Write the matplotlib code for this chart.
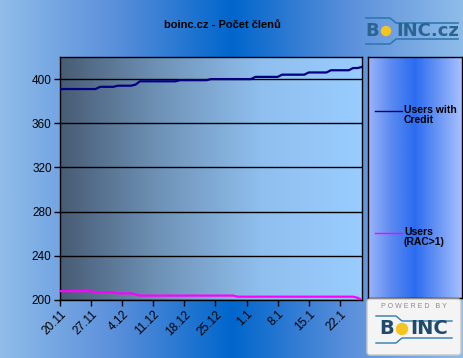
"""boinc.cz - member count chart (Excel-style)."""
import matplotlib
matplotlib.use("Agg")
import matplotlib.pyplot as plt
import numpy as np
from matplotlib.colors import LinearSegmentedColormap
from matplotlib.patches import FancyBboxPatch, Circle

plt.rcParams["font.family"] = ["Liberation Sans", "DejaVu Sans"]

# day index since 20.11, one value per day
days = list(range(69))
users_credit = ([391] * 9 + [393] * 4 + [394] * 4 + [395] + [398] * 9 + [399] * 7
                + [400] * 10 + [402] * 6 + [404] * 6 + [406] * 5 + [408] * 5
                + [410] * 2 + [411])
users_rac = ([208] * 8 + [207] * 5 + [206] * 4 + [205] + [204] * 22 + [203] * 27
             + [202] + [200])
tick_days = [0, 7, 14, 21, 28, 35, 42, 49, 56, 63]
tick_labels = ["20.11", "27.11", "4.12", "11.12", "18.12", "25.12", "1.1", "8.1", "15.1", "22.1"]
y_ticks = [200, 240, 280, 320, 360, 400]
series_names = ["Users with\nCredit", "Users\n(RAC>1)"]
series_colors = ["#000080", "#ff00ff"]

W, H = 464, 358
fig = plt.figure(figsize=(W / 100, H / 100), dpi=100)


def px_axes(x0, y0, x1, y1, **kw):
    return fig.add_axes([x0 / W, 1 - y1 / H, (x1 - x0) / W, (y1 - y0) / H], **kw)


def hgrad(ax, colors, zorder=0):
    cmap = LinearSegmentedColormap.from_list("g", colors)
    ax.imshow(np.linspace(0, 1, 256)[None, :], aspect="auto", cmap=cmap,
              extent=[0, 1, 0, 1], transform=ax.transAxes, zorder=zorder)


# figure background
bg = px_axes(0, 0, W, H)
hgrad(bg, ["#8fbce9", "#5a8fdb", "#0066cc", "#5a8fdb", "#8fbce9"])
bg.set_axis_off()

# plot area
ax = px_axes(60, 57, 362, 300)
hgrad(ax, ["#485c74", "#6f93b8", "#8fbfee", "#99ccff"], zorder=-5)
for y in y_ticks:
    ax.axhline(y, color="black", lw=1, zorder=1)
ax.plot(days, users_credit, color=series_colors[0], lw=1.6, zorder=3)
ax.plot(days, users_rac, color=series_colors[1], lw=1.6, zorder=3)
ax.set_xlim(0, 68)
ax.set_ylim(200, 420)
ax.set_yticks(y_ticks)
ax.set_xticks(tick_days)
ax.set_xticklabels(tick_labels, rotation=45, ha="right", rotation_mode="anchor")
ax.tick_params(axis="both", direction="out", length=4, width=1, labelsize=8.5,
               colors="black", pad=2)
for s in ax.spines.values():
    s.set_linewidth(1)

# title
fig.text(222 / W, 1 - 25 / H, "boinc.cz - Počet členů", ha="center", va="center",
         fontsize=8, fontweight="bold")

# legend box
lg = px_axes(368, 57, 462, 298)
hgrad(lg, ["#9cb4fa", "#5a8af0", "#2c6cf0", "#6a96f4", "#a8c0ff"])
lg.set_xlim(0, 94)
lg.set_ylim(241, 0)
for i, (name, col) in enumerate(zip(series_names, series_colors)):
    y = [54, 176][i]
    lg.plot([7, 34], [y, y], color=col, lw=1)
    lg.text(36, y - 6, name, fontsize=7.5, fontweight="bold", va="top", ha="left",
            linespacing=1.05)
lg.set_xticks([])
lg.set_yticks([])
for s in lg.spines.values():
    s.set_linewidth(1)

# top-right logo
logo = px_axes(362, 14, 462, 48)
logo.set_xlim(0, 100)
logo.set_ylim(34, 0)
logo.set_axis_off()
logo.plot([4, 28, 34, 96], [4, 4, 9, 9], color="#2f7ab0", lw=1.2)
logo.plot([4, 28, 34, 96], [30, 30, 25, 25], color="#2f7ab0", lw=1.2)
logo.text(3, 17, "B", fontsize=13, fontweight="bold", color="#2a6491", va="center",
          family="DejaVu Sans")
logo.add_patch(Circle((24, 17), 4.5, color="#f5c41f", zorder=3))
logo.text(34, 17, "INC.cz", fontsize=13, fontweight="bold", color="#2a6491",
          va="center", family="DejaVu Sans")

# bottom-right "powered by" logo
pb = px_axes(366, 297, 464, 358)
pb.set_xlim(0, 98)
pb.set_ylim(61, 0)
pb.set_axis_off()
pb.add_patch(FancyBboxPatch((1, 2), 94, 56, boxstyle="round,pad=0,rounding_size=3",
                            fc="#f4f4f4", ec="#c8c8c8", lw=1))
pb.text(48, 9, "P O W E R E D   B Y", fontsize=5, color="#8a8a8a", ha="center",
        va="center")
pb.text(13, 32, "B", fontsize=14, fontweight="bold", color="#1f4a6b", va="center",
        family="DejaVu Sans")
pb.add_patch(Circle((36, 32), 5.5, color="#f5c41f", zorder=3))
pb.text(44, 32, "INC", fontsize=14, fontweight="bold", color="#1f4a6b", va="center",
        family="DejaVu Sans")
pb.plot([10, 30, 36, 86], [19, 19, 24, 24], color="#2f7ab0", lw=1)
pb.plot([10, 30, 36, 86], [46, 46, 41, 41], color="#2f7ab0", lw=1)

fig.savefig("out.png", dpi=100)
